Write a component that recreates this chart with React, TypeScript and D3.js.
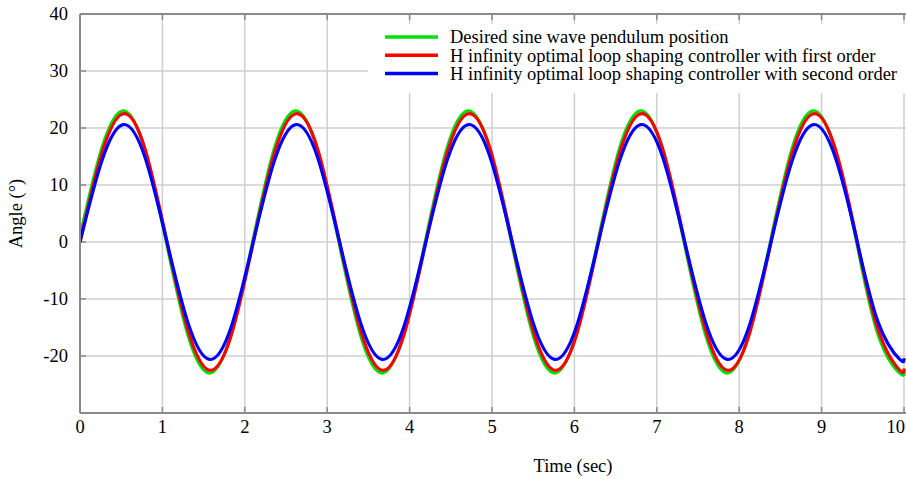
import React from "react";
import * as d3 from "d3";

const W = 906;
const H = 479;

const time = [0, 0.2618, 0.5236, 0.7854, 1.0472, 1.309, 1.5708, 1.8326, 2.0944, 2.3562, 2.618, 2.8798, 3.1416, 3.4034, 3.6652, 3.927, 4.1888, 4.4506, 4.7124, 4.9742, 5.236, 5.4978, 5.7596, 6.0214, 6.2832, 6.545, 6.8068, 7.0686, 7.3304, 7.5922, 7.854, 8.1158, 8.3776, 8.6394, 8.9012, 9.163, 9.4248, 9.6866, 9.9484, 10];

const desired = [1, 16.3, 23, 16.3, 0, -16.3, -23, -16.3, 0, 16.3, 23, 16.3, 0, -16.3, -23, -16.3, 0, 16.3, 23, 16.3, 0, -16.3, -23, -16.3, 0, 16.3, 23, 16.3, 0, -16.3, -23, -16.3, 0, 16.3, 23, 16.3, 0, -16.3, -23, -22.7];

const firstOrder = [0, 15.4, 22.5, 16.5, 0.6, -15.4, -22.5, -16.5, -0.6, 15.4, 22.5, 16.5, 0.6, -15.4, -22.5, -16.5, -0.6, 15.4, 22.5, 16.5, 0.6, -15.4, -22.5, -16.5, -0.6, 15.4, 22.5, 16.5, 0.6, -15.4, -22.5, -16.5, -0.6, 15.4, 22.5, 16.5, 0.6, -15.4, -22.5, -22.2];

const secondOrder = [0, 14.1, 20.6, 15.0, 0.5, -14.1, -20.6, -15.0, -0.5, 14.1, 20.6, 15.0, 0.5, -14.1, -20.6, -15.0, -0.5, 14.1, 20.6, 15.0, 0.5, -14.1, -20.6, -15.0, -0.5, 14.1, 20.6, 15.0, 0.5, -14.1, -20.6, -15.0, -0.5, 14.1, 20.6, 15.0, 0.5, -14.1, -20.6, -20.4];

const xTicks = [0, 1, 2, 3, 4, 5, 6, 7, 8, 9, 10];
const yTicks = [-20, -10, 0, 10, 20, 30, 40];

const seriesNames = [
  "Desired sine wave pendulum position",
  "H infinity optimal loop shaping controller with first order",
  "H infinity optimal loop shaping controller with second order",
];
const seriesColors = ["#00e000", "#ff0000", "#0000ff"];
const seriesValues = [desired, firstOrder, secondOrder];

export default function App() {
  const left = 80;
  const right = 904;
  const top = 14;
  const bottom = 413;
  const x = d3.scaleLinear().domain([0, 10]).range([left, right]);
  const y = d3.scaleLinear().domain([-30, 40]).range([bottom, top]);
  const font = "'Liberation Serif', 'Times New Roman', serif";
  const fs = 18.5;

  const line = (vals: number[]) =>
    d3
      .line<number>()
      .x((_, i) => x(time[i]))
      .y((d) => y(d))
      .curve(d3.curveNatural)(vals) || "";

  return (
    <svg
      width={W}
      height={H}
      style={{ position: "absolute", left: 0, top: 0, background: "#fff" }}
    >
      <defs>
        <clipPath id="plot">
          <rect x={left} y={top} width={W - left} height={bottom - top} />
        </clipPath>
      </defs>
      {/* grid */}
      {xTicks.map((t) => (
        <line key={"gx" + t} x1={x(t)} x2={x(t)} y1={top} y2={bottom} stroke="#cfcfcf" strokeWidth={1.5} />
      ))}
      {yTicks.map((t) => (
        <line key={"gy" + t} x1={left} x2={W} y1={y(t)} y2={y(t)} stroke="#cfcfcf" strokeWidth={1.5} />
      ))}
      {/* tick marks */}
      {xTicks.map((t) => (
        <g key={"tx" + t}>
          <line x1={x(t)} x2={x(t)} y1={bottom} y2={bottom - 6} stroke="#8a8a8a" strokeWidth={1.5} />
          <line x1={x(t)} x2={x(t)} y1={top} y2={top + 6} stroke="#8a8a8a" strokeWidth={1.5} />
        </g>
      ))}
      {yTicks.map((t) => (
        <line key={"ty" + t} x1={left} x2={left + 6} y1={y(t)} y2={y(t)} stroke="#8a8a8a" strokeWidth={1.5} />
      ))}
      {/* legend background */}
      <rect x={368} y={24} width={W - 368} height={69} fill="#fff" />
      {/* curves */}
      <g clipPath="url(#plot)">
        {seriesValues.map((vals, k) => (
          <path key={k} d={line(vals)} fill="none" stroke={seriesColors[k]} strokeWidth={3.2} strokeLinejoin="round" />
        ))}
      </g>
      {/* frame */}
      <line x1={left} x2={W} y1={top} y2={top} stroke="#8a8a8a" strokeWidth={2} />
      <line x1={left} x2={W} y1={bottom} y2={bottom} stroke="#8a8a8a" strokeWidth={2} />
      <line x1={left} x2={left} y1={top} y2={bottom} stroke="#8a8a8a" strokeWidth={2} />
      {/* tick labels */}
      {xTicks.map((t, i) => (
        <text
          key={"lx" + t}
          x={i === xTicks.length - 1 ? W - 1 : x(t)}
          y={bottom + 20}
          textAnchor={i === xTicks.length - 1 ? "end" : "middle"}
          fontFamily={font}
          fontSize={fs}
          fill="#000"
        >
          {t}
        </text>
      ))}
      {yTicks.map((t) => (
        <text key={"ly" + t} x={68} y={y(t) + 6} textAnchor="end" fontFamily={font} fontSize={fs} fill="#000">
          {t}
        </text>
      ))}
      {/* axis titles */}
      <text x={573} y={472} textAnchor="middle" fontFamily={font} fontSize={fs} fill="#000">
        Time (sec)
      </text>
      <text
        transform={`translate(22,${(top + bottom) / 2}) rotate(-90)`}
        textAnchor="middle"
        fontFamily={font}
        fontSize={fs}
        fill="#000"
      >
        Angle (°)
      </text>
      {/* legend */}
      {seriesNames.map((name, k) => (
        <g key={"lg" + k}>
          <line x1={385} x2={438} y1={37 + k * 18.3} y2={37 + k * 18.3} stroke={seriesColors[k]} strokeWidth={3.5} />
          <text x={450} y={43.3 + k * 18.3} fontFamily={font} fontSize={fs} fill="#000">
            {name}
          </text>
        </g>
      ))}
    </svg>
  );
}
